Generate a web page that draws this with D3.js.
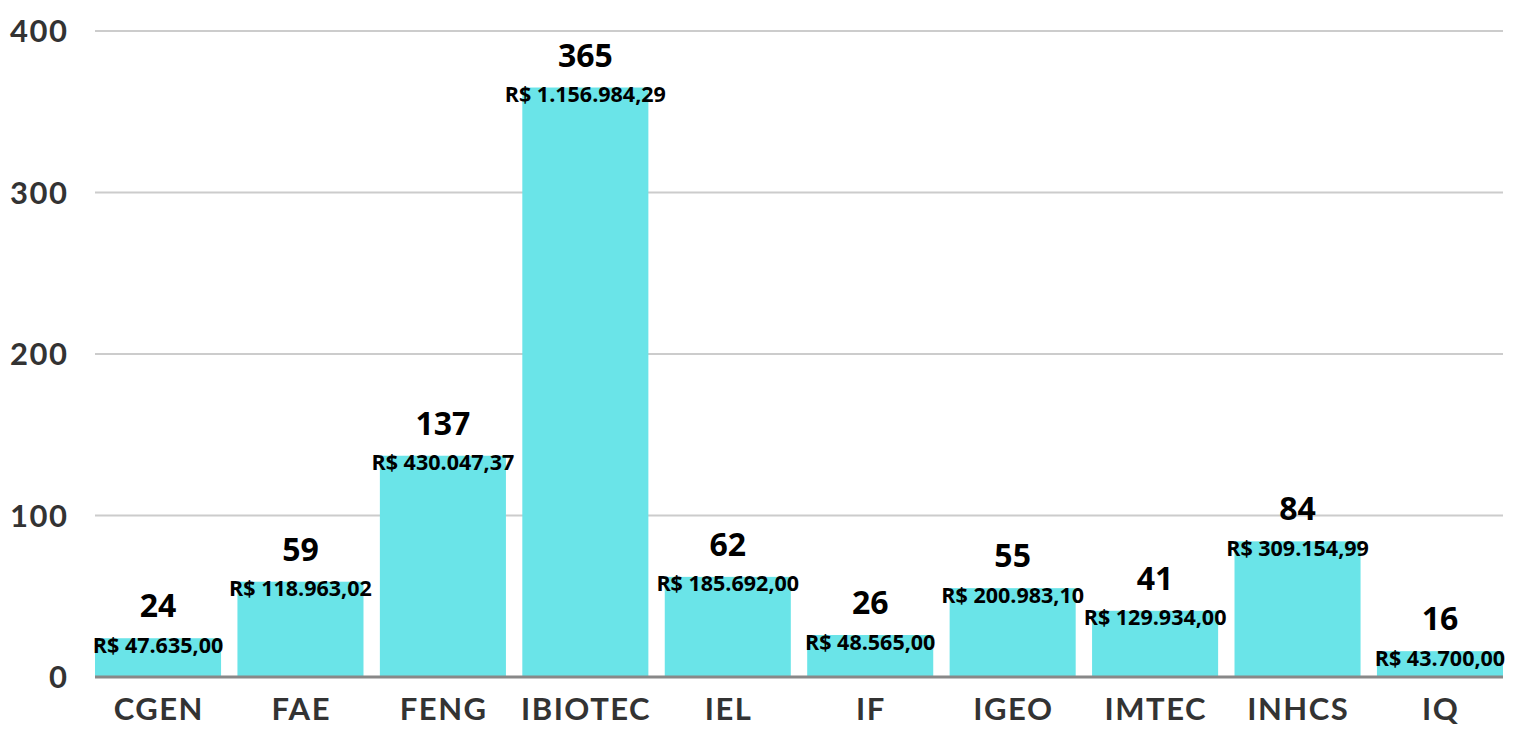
<!DOCTYPE html>
<html>
<head>
<meta charset="utf-8">
<script src="https://cdn.jsdelivr.net/npm/d3@7"></script>
<style>
  body { margin: 0; background: #fff; }
  svg { display: block; }
</style>
</head>
<body>
<svg id="chart" width="1523" height="729"></svg>
<script>
var categories = ["CGEN", "FAE", "FENG", "IBIOTEC", "IEL", "IF", "IGEO", "IMTEC", "INHCS", "IQ"];
var counts = [24, 59, 137, 365, 62, 26, 55, 41, 84, 16];
var amounts = ["R$ 47.635,00", "R$ 118.963,02", "R$ 430.047,37", "R$ 1.156.984,29", "R$ 185.692,00",
               "R$ 48.565,00", "R$ 200.983,10", "R$ 129.934,00", "R$ 309.154,99", "R$ 43.700,00"];
var yTicks = [0, 100, 200, 300, 400];

var svg = d3.select("#chart"),
    plotLeft = 95,
    plotRight = 1503,
    plotTop = 31,
    plotBottom = 677;

var x = d3.scaleBand()
    .domain(categories)
    .range([plotLeft, plotRight])
    .paddingInner(0.115)
    .paddingOuter(0);

var y = d3.scaleLinear()
    .domain([0, 400])
    .range([plotBottom, plotTop]);

// gridlines
svg.append("g")
    .selectAll("line")
    .data(yTicks.filter(function(d) { return d > 0; }))
    .enter().append("line")
    .attr("x1", plotLeft)
    .attr("x2", plotRight)
    .attr("y1", function(d) { return y(d); })
    .attr("y2", function(d) { return y(d); })
    .attr("stroke", "#cccccc")
    .attr("stroke-width", 2);

// y labels
svg.append("g")
    .selectAll("text")
    .data(yTicks)
    .enter().append("text")
    .attr("x", 68.5)
    .attr("y", function(d) { return y(d); })
    .attr("dy", "0.36em")
    .attr("text-anchor", "end")
    .style("font-family", "Lato, 'Open Sans', sans-serif")
    .style("font-weight", "bold")
    .style("font-size", "31px")
    .style("letter-spacing", "1.5px")
    .style("fill", "#333")
    .text(function(d) { return d; });

// bars
var idx = d3.range(categories.length);
svg.append("g")
    .selectAll("rect")
    .data(idx)
    .enter().append("rect")
    .attr("x", function(d) { return x(categories[d]); })
    .attr("y", function(d) { return y(counts[d]); })
    .attr("width", x.bandwidth())
    .attr("height", function(d) { return y(0) - y(counts[d]); })
    .attr("fill", "#6ae4e8");

// baseline
svg.append("line")
    .attr("x1", plotLeft)
    .attr("x2", plotRight)
    .attr("y1", y(0))
    .attr("y2", y(0))
    .attr("stroke", "#888")
    .attr("stroke-width", 3);

// x labels
svg.append("g")
    .selectAll("text")
    .data(categories)
    .enter().append("text")
    .attr("x", function(d) { return x(d) + x.bandwidth() / 2 + 0.75; })
    .attr("y", 720)
    .attr("text-anchor", "middle")
    .style("font-family", "Lato, 'Open Sans', sans-serif")
    .style("font-weight", "bold")
    .style("font-size", "31px")
    .style("letter-spacing", "1.5px")
    .style("fill", "#333")
    .text(function(d) { return d; });

// count labels
svg.append("g")
    .selectAll("text")
    .data(idx)
    .enter().append("text")
    .attr("x", function(d) { return x(categories[d]) + x.bandwidth() / 2; })
    .attr("y", function(d) { return y(counts[d]) - 21; })
    .attr("text-anchor", "middle")
    .style("font-family", "'Open Sans', sans-serif")
    .style("font-weight", "bold")
    .style("font-size", "32px")
    .style("fill", "#000")
    .text(function(d) { return counts[d]; });

// money labels
svg.append("g")
    .selectAll("text")
    .data(idx)
    .enter().append("text")
    .attr("x", function(d) { return x(categories[d]) + x.bandwidth() / 2; })
    .attr("y", function(d) { return y(counts[d]) + 14.5; })
    .attr("text-anchor", "middle")
    .style("font-family", "'Open Sans', sans-serif")
    .style("font-weight", "bold")
    .style("font-size", "21.5px")
    .style("fill", "#000")
    .text(function(d) { return amounts[d]; });
</script>
</body>
</html>
